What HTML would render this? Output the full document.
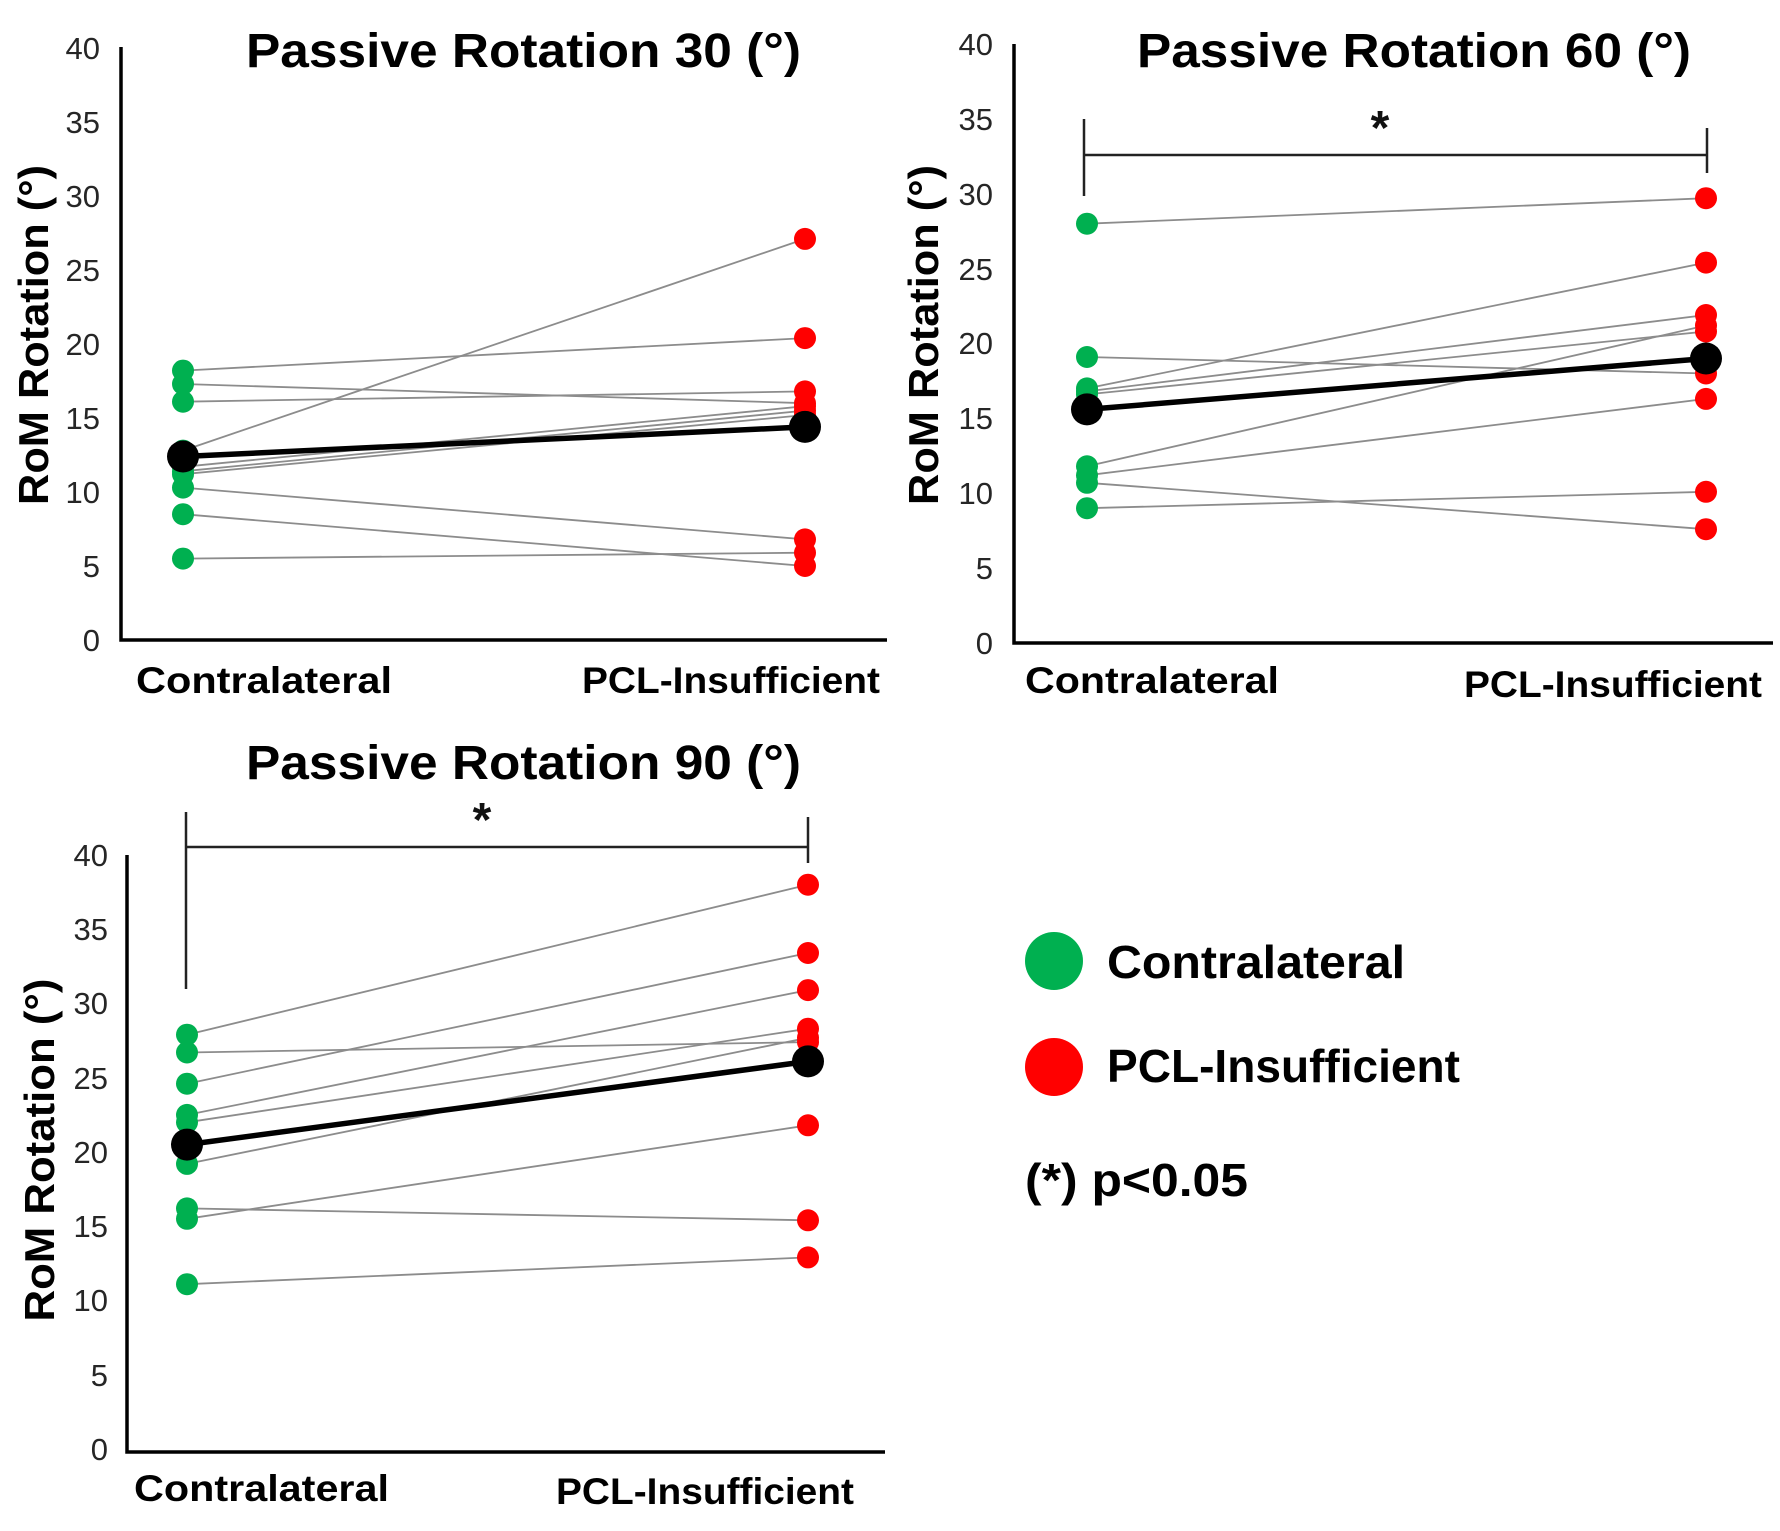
<!DOCTYPE html>
<html><head><meta charset="utf-8"><style>
html,body{margin:0;padding:0;background:#fff;}
svg{display:block;}
text{font-family:"Liberation Sans",Arial,sans-serif;}
.t{font-weight:bold;font-size:48px;fill:#000;}
.xl{font-weight:bold;font-size:37px;fill:#000;}
.yl{font-weight:bold;font-size:42px;fill:#000;}
.tk{font-size:31px;fill:#262626;text-anchor:end;}
.lg{font-weight:bold;font-size:46px;fill:#000;}
.g{stroke:#8c8c8c;stroke-width:1.8;fill:none;}
.m{stroke:#000;stroke-width:5.5;}
.ax{stroke:#000;stroke-width:3.5;fill:none;}
.br{stroke:#222;stroke-width:2.5;fill:none;}
</style></head><body>
<svg width="1780" height="1531" viewBox="0 0 1780 1531" xmlns="http://www.w3.org/2000/svg">
<rect width="1780" height="1531" fill="#fff"/>

<!-- ============ PANEL 1 ============ -->
<text class="t" x="246" y="67" textLength="555" lengthAdjust="spacingAndGlyphs">Passive Rotation 30 (°)</text>
<g class="tk">
<text x="100" y="651">0</text>
<text x="100" y="577">5</text>
<text x="100" y="503">10</text>
<text x="100" y="429">15</text>
<text x="100" y="355">20</text>
<text x="100" y="281">25</text>
<text x="100" y="207">30</text>
<text x="100" y="133">35</text>
<text x="100" y="59">40</text>
</g>
<text class="yl" transform="translate(48,335) rotate(-90)" text-anchor="middle" textLength="340" lengthAdjust="spacingAndGlyphs">RoM Rotation (°)</text>
<polyline class="ax" points="121,47 121,640 887,640"/>
<text class="xl" x="136" y="693" textLength="256" lengthAdjust="spacingAndGlyphs">Contralateral</text>
<text class="xl" x="582" y="693" textLength="298" lengthAdjust="spacingAndGlyphs">PCL-Insufficient</text>
<g class="g">
<line x1="183" y1="370.6" x2="805" y2="338.1"/>
<line x1="183" y1="384.0" x2="805" y2="403.2"/>
<line x1="183" y1="401.7" x2="805" y2="391.4"/>
<line x1="183" y1="450.6" x2="805" y2="238.9"/>
<line x1="183" y1="466.8" x2="805" y2="406.2"/>
<line x1="183" y1="471.3" x2="805" y2="410.6"/>
<line x1="183" y1="474.2" x2="805" y2="415.0"/>
<line x1="183" y1="487.6" x2="805" y2="539.4"/>
<line x1="183" y1="514.2" x2="805" y2="566.0"/>
<line x1="183" y1="558.6" x2="805" y2="552.7"/>
</g>
<g fill="#00b050">
<circle cx="183" cy="370.6" r="11"/><circle cx="183" cy="384.0" r="11"/><circle cx="183" cy="401.7" r="11"/>
<circle cx="183" cy="450.6" r="11"/><circle cx="183" cy="466.8" r="11"/><circle cx="183" cy="471.3" r="11"/>
<circle cx="183" cy="474.2" r="11"/><circle cx="183" cy="487.6" r="11"/><circle cx="183" cy="514.2" r="11"/>
<circle cx="183" cy="558.6" r="11"/>
</g>
<g fill="#ff0000">
<circle cx="805" cy="238.9" r="11"/><circle cx="805" cy="338.1" r="11"/><circle cx="805" cy="391.4" r="11"/>
<circle cx="805" cy="403.2" r="11"/><circle cx="805" cy="406.2" r="11"/><circle cx="805" cy="410.6" r="11"/>
<circle cx="805" cy="415.0" r="11"/><circle cx="805" cy="539.4" r="11"/><circle cx="805" cy="552.7" r="11"/>
<circle cx="805" cy="566.0" r="11"/>
</g>
<line class="m" x1="183" y1="456.5" x2="805" y2="426.9"/>
<circle cx="183" cy="456.5" r="16" fill="#000"/>
<circle cx="805" cy="426.9" r="16" fill="#000"/>

<!-- ============ PANEL 2 ============ -->
<text class="t" x="1137" y="67" textLength="554" lengthAdjust="spacingAndGlyphs">Passive Rotation 60 (°)</text>
<g class="tk">
<text x="993" y="654">0</text>
<text x="993" y="579">5</text>
<text x="993" y="504">10</text>
<text x="993" y="429">15</text>
<text x="993" y="354">20</text>
<text x="993" y="280">25</text>
<text x="993" y="205">30</text>
<text x="993" y="130">35</text>
<text x="993" y="55">40</text>
</g>
<text class="yl" transform="translate(938,335) rotate(-90)" text-anchor="middle" textLength="340" lengthAdjust="spacingAndGlyphs">RoM Rotation (°)</text>
<polyline class="ax" points="1014,44 1014,643 1773,643"/>
<text class="xl" x="1025" y="693" textLength="254" lengthAdjust="spacingAndGlyphs">Contralateral</text>
<text class="xl" x="1464" y="697" textLength="298" lengthAdjust="spacingAndGlyphs">PCL-Insufficient</text>
<polyline class="br" points="1084,119 1084,196"/>
<line class="br" x1="1084" y1="155" x2="1707" y2="155"/>
<polyline class="br" points="1707,128 1707,173"/>
<text x="1380" y="144" font-size="48" font-weight="bold" text-anchor="middle" fill="#111">*</text>
<g class="g">
<line x1="1087" y1="223.7" x2="1706" y2="198.2"/>
<line x1="1087" y1="357.0" x2="1706" y2="373.5"/>
<line x1="1087" y1="388.4" x2="1706" y2="262.6"/>
<line x1="1087" y1="391.4" x2="1706" y2="315.0"/>
<line x1="1087" y1="394.4" x2="1706" y2="331.5"/>
<line x1="1087" y1="466.3" x2="1706" y2="325.5"/>
<line x1="1087" y1="475.3" x2="1706" y2="398.9"/>
<line x1="1087" y1="482.8" x2="1706" y2="529.2"/>
<line x1="1087" y1="508.2" x2="1706" y2="491.8"/>
</g>
<g fill="#00b050">
<circle cx="1087" cy="223.7" r="11"/><circle cx="1087" cy="357.0" r="11"/><circle cx="1087" cy="388.4" r="11"/>
<circle cx="1087" cy="391.4" r="11"/><circle cx="1087" cy="394.4" r="11"/><circle cx="1087" cy="466.3" r="11"/>
<circle cx="1087" cy="475.3" r="11"/><circle cx="1087" cy="482.8" r="11"/><circle cx="1087" cy="508.2" r="11"/>
</g>
<g fill="#ff0000">
<circle cx="1706" cy="198.2" r="11"/><circle cx="1706" cy="262.6" r="11"/><circle cx="1706" cy="315.0" r="11"/>
<circle cx="1706" cy="325.5" r="11"/><circle cx="1706" cy="331.5" r="11"/><circle cx="1706" cy="373.5" r="11"/>
<circle cx="1706" cy="398.9" r="11"/><circle cx="1706" cy="491.8" r="11"/><circle cx="1706" cy="529.2" r="11"/>
</g>
<line class="m" x1="1087" y1="409.4" x2="1706" y2="358.5"/>
<circle cx="1087" cy="409.4" r="16" fill="#000"/>
<circle cx="1706" cy="358.5" r="16" fill="#000"/>

<!-- ============ PANEL 3 ============ -->
<text class="t" x="246" y="779" textLength="555" lengthAdjust="spacingAndGlyphs">Passive Rotation 90 (°)</text>
<g class="tk">
<text x="108" y="1460">0</text>
<text x="108" y="1386">5</text>
<text x="108" y="1311">10</text>
<text x="108" y="1237">15</text>
<text x="108" y="1163">20</text>
<text x="108" y="1089">25</text>
<text x="108" y="1014">30</text>
<text x="108" y="940">35</text>
<text x="108" y="866">40</text>
</g>
<text class="yl" transform="translate(54,1150) rotate(-90)" text-anchor="middle" textLength="343" lengthAdjust="spacingAndGlyphs">RoM Rotation (°)</text>
<polyline class="ax" points="127,855 127,1452 885,1452"/>
<text class="xl" x="134" y="1501" textLength="255" lengthAdjust="spacingAndGlyphs">Contralateral</text>
<text class="xl" x="556" y="1504" textLength="298" lengthAdjust="spacingAndGlyphs">PCL-Insufficient</text>
<polyline class="br" points="186,812 186,989"/>
<line class="br" x1="186" y1="847" x2="808" y2="847"/>
<polyline class="br" points="808,817 808,863"/>
<text x="482" y="836" font-size="48" font-weight="bold" text-anchor="middle" fill="#111">*</text>
<g class="g">
<line x1="187" y1="1034.7" x2="808" y2="884.7"/>
<line x1="187" y1="1052.5" x2="808" y2="1042.1"/>
<line x1="187" y1="1083.7" x2="808" y2="953.0"/>
<line x1="187" y1="1114.9" x2="808" y2="990.1"/>
<line x1="187" y1="1122.3" x2="808" y2="1028.7"/>
<line x1="187" y1="1163.9" x2="808" y2="1037.7"/>
<line x1="187" y1="1208.4" x2="808" y2="1220.3"/>
<line x1="187" y1="1218.8" x2="808" y2="1125.3"/>
<line x1="187" y1="1284.2" x2="808" y2="1257.4"/>
</g>
<g fill="#00b050">
<circle cx="187" cy="1034.7" r="11"/><circle cx="187" cy="1052.5" r="11"/><circle cx="187" cy="1083.7" r="11"/>
<circle cx="187" cy="1114.9" r="11"/><circle cx="187" cy="1122.3" r="11"/><circle cx="187" cy="1163.9" r="11"/>
<circle cx="187" cy="1208.4" r="11"/><circle cx="187" cy="1218.8" r="11"/><circle cx="187" cy="1284.2" r="11"/>
</g>
<g fill="#ff0000">
<circle cx="808" cy="884.7" r="11"/><circle cx="808" cy="953.0" r="11"/><circle cx="808" cy="990.1" r="11"/>
<circle cx="808" cy="1028.7" r="11"/><circle cx="808" cy="1037.7" r="11"/><circle cx="808" cy="1042.1" r="11"/>
<circle cx="808" cy="1125.3" r="11"/><circle cx="808" cy="1220.3" r="11"/><circle cx="808" cy="1257.4" r="11"/>
</g>
<line class="m" x1="187" y1="1144.6" x2="808" y2="1061.4"/>
<circle cx="187" cy="1144.6" r="16" fill="#000"/>
<circle cx="808" cy="1061.4" r="16" fill="#000"/>

<!-- ============ LEGEND ============ -->
<circle cx="1054" cy="961" r="29" fill="#00b050"/>
<text class="lg" x="1107" y="978" textLength="298" lengthAdjust="spacingAndGlyphs">Contralateral</text>
<circle cx="1054" cy="1067" r="29" fill="#ff0000"/>
<text class="lg" x="1107" y="1082" textLength="353" lengthAdjust="spacingAndGlyphs">PCL-Insufficient</text>
<text class="lg" x="1025" y="1196" textLength="223" lengthAdjust="spacingAndGlyphs">(*) p&lt;0.05</text>
</svg>
</body></html>
